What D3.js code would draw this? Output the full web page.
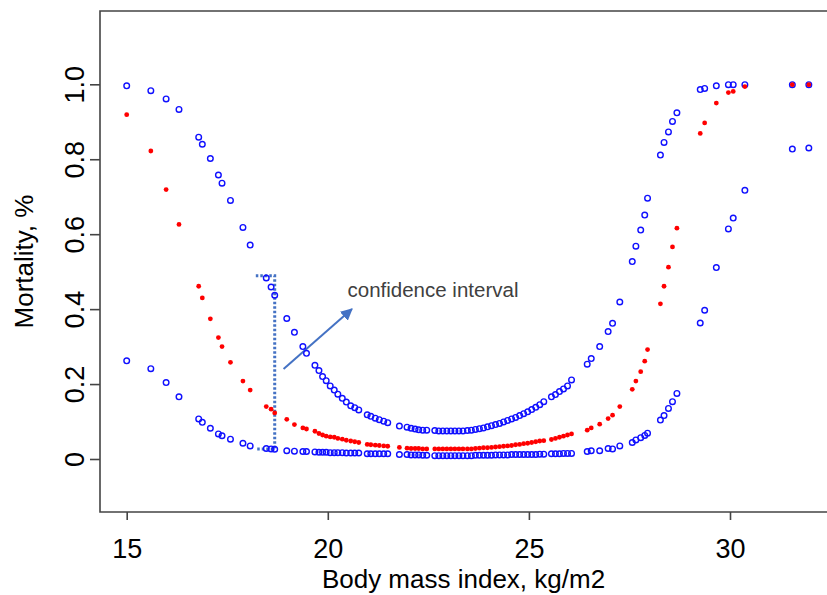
<!DOCTYPE html>
<html>
<head>
<meta charset="utf-8">
<script src="https://cdn.jsdelivr.net/npm/d3@7"></script>
<style>
  html, body { margin: 0; padding: 0; background: #fff; }
  svg { display: block; font-family: "Liberation Sans", Arial, sans-serif; }
</style>
</head>
<body>
<div id="figure"></div>
<script>
// body mass index of each point (shared by the three series)
const bmi = [15.0, 15.6, 15.98, 16.3, 16.79, 16.88, 17.08, 17.28, 17.37, 17.58, 17.89, 18.07, 18.47, 18.59, 18.68,
  18.98, 19.17, 19.38, 19.47, 19.68, 19.78, 19.87, 19.96, 20.06, 20.16, 20.25, 20.36, 20.46, 20.57, 20.67, 20.77,
  20.98, 21.07, 21.18, 21.28, 21.39, 21.49, 21.78, 21.97, 22.07, 22.17, 22.26, 22.36, 22.46,
  22.66, 22.76, 22.86, 22.96, 23.06, 23.16, 23.26, 23.36, 23.47,
  23.57, 23.67, 23.77, 23.87, 23.97, 24.07, 24.17, 24.27, 24.37, 24.47, 24.57, 24.67, 24.77, 24.87, 24.97, 25.07, 25.17, 25.27, 25.37,
  25.56, 25.66, 25.76, 25.86, 25.96, 26.06,
  26.45, 26.55, 26.76, 26.97, 27.08, 27.26, 27.57, 27.66, 27.78, 27.88, 27.95,
  28.27, 28.36, 28.47, 28.57, 28.68,
  29.26, 29.37, 29.66, 29.96, 30.08, 30.37, 31.55, 31.96];

// upper confidence limit
const upper = [0.996, 0.983, 0.961, 0.933, 0.859, 0.840, 0.802, 0.758, 0.736, 0.690, 0.618, 0.571, 0.483, 0.459, 0.437,
  0.375, 0.338, 0.300, 0.282, 0.250, 0.236, 0.220, 0.209, 0.195, 0.184, 0.173, 0.162, 0.152, 0.142, 0.137, 0.131,
  0.118, 0.114, 0.109, 0.105, 0.101, 0.097, 0.088, 0.085, 0.082, 0.080, 0.078, 0.077, 0.077,
  0.076, 0.075, 0.075, 0.075, 0.075, 0.075, 0.075, 0.075, 0.076,
  0.077, 0.079, 0.081, 0.083, 0.086, 0.089, 0.092, 0.095, 0.099, 0.103, 0.107, 0.111, 0.116, 0.121, 0.126, 0.132, 0.138, 0.145, 0.153,
  0.166, 0.172, 0.180, 0.187, 0.195, 0.211,
  0.253, 0.268, 0.300, 0.340, 0.362, 0.419, 0.527, 0.568, 0.611, 0.651, 0.696,
  0.811, 0.845, 0.873, 0.901, 0.924,
  0.986, 0.989, 0.996, 0.999, 0.999, 0.999, 0.999, 0.999];

// estimated mortality
const estimate = [0.919, 0.822, 0.719, 0.626, 0.461, 0.430, 0.374, 0.324, 0.300, 0.258, 0.208, 0.184, 0.140, 0.133, 0.123,
  0.106, 0.092, 0.083, 0.080, 0.074, 0.068, 0.064, 0.061, 0.059, 0.058, 0.055, 0.053, 0.050, 0.048, 0.046, 0.044,
  0.039, 0.038, 0.037, 0.036, 0.035, 0.034, 0.031, 0.029, 0.028, 0.028, 0.028, 0.027, 0.027,
  0.027, 0.027, 0.027, 0.027, 0.027, 0.027, 0.027, 0.027, 0.027,
  0.027, 0.028, 0.029, 0.030, 0.030, 0.031, 0.032, 0.033, 0.034, 0.035, 0.036, 0.038, 0.039, 0.041, 0.042, 0.044, 0.046, 0.048, 0.049,
  0.052, 0.055, 0.058, 0.061, 0.064, 0.067,
  0.077, 0.083, 0.093, 0.108, 0.117, 0.140, 0.186, 0.208, 0.233, 0.261, 0.292,
  0.414, 0.461, 0.512, 0.566, 0.616,
  0.869, 0.897, 0.950, 0.978, 0.981, 0.994, 0.999, 0.999];

// lower confidence limit
const lower = [0.262, 0.241, 0.204, 0.166, 0.107, 0.098, 0.082, 0.067, 0.062, 0.053, 0.042, 0.035, 0.028, 0.027, 0.026,
  0.022, 0.021, 0.020, 0.020, 0.019, 0.018, 0.018, 0.018, 0.017, 0.017, 0.017, 0.017, 0.016, 0.016, 0.016, 0.016,
  0.014, 0.014, 0.014, 0.014, 0.014, 0.014, 0.012, 0.012, 0.011, 0.011, 0.011, 0.010, 0.010,
  0.009, 0.009, 0.009, 0.009, 0.009, 0.009, 0.009, 0.009, 0.009,
  0.009, 0.010, 0.010, 0.010, 0.010, 0.010, 0.011, 0.011, 0.011, 0.011, 0.012, 0.012, 0.012, 0.012, 0.012, 0.012, 0.012, 0.013, 0.013,
  0.014, 0.014, 0.014, 0.015, 0.015, 0.015,
  0.020, 0.022, 0.022, 0.028, 0.027, 0.035, 0.044, 0.051, 0.057, 0.063, 0.069,
  0.104, 0.116, 0.135, 0.153, 0.175,
  0.363, 0.397, 0.511, 0.614, 0.643, 0.717, 0.827, 0.830];

const xTicks = [15, 20, 25, 30];
const yTicks = [0, 0.2, 0.4, 0.6, 0.8, 1.0];
const yTickLabels = ["0", "0.2", "0.4", "0.6", "0.8", "1.0"];

// annotation, in data units
const bracket = [[18.21, 0.489], [18.68, 0.489], [18.68, 0.027], [18.21, 0.027]];
const arrow = [[18.9, 0.24], [20.6, 0.40]];
const note = {x: 20.49, y: 0.432, text: "confidence interval"};

const width = 827, height = 595;
const frame = {left: 100, top: 11, bottom: 512, right: 830};

const svg = d3.select("#figure")
  .append("svg")
  .attr("width", width)
  .attr("height", height);

const x = d3.scaleLinear().domain([15, 30]).range([126.7, 730]);
const y = d3.scaleLinear().domain([0, 1]).range([459, 84.3]);

// box (the right side runs off the picture)
svg.append("path")
  .attr("d", `M${frame.right},${frame.top}H${frame.left}V${frame.bottom}H${frame.right}`)
  .attr("fill", "none")
  .attr("stroke", "#444")
  .attr("stroke-width", 1.6);

// x axis
const xAxis = svg.append("g")
  .attr("transform", `translate(0,${frame.bottom})`)
  .call(d3.axisBottom(x).tickValues(xTicks).tickSize(8).tickPadding(20).tickFormat(d3.format("d")));
xAxis.select(".domain").remove();
xAxis.selectAll("line").attr("stroke", "#444").attr("stroke-width", 1.6);
xAxis.selectAll("text")
  .attr("font-size", 27)
  .attr("font-family", "Liberation Sans, Arial, sans-serif")
  .attr("fill", "#000")
  .attr("dy", 0)
  .attr("y", 46);

// y axis, labels turned on their side
const yAxis = svg.append("g")
  .attr("transform", `translate(${frame.left},0)`)
  .call(d3.axisLeft(y).tickValues(yTicks).tickSize(10).tickFormat((d, i) => yTickLabels[i]));
yAxis.select(".domain").remove();
yAxis.selectAll("line").attr("stroke", "#444").attr("stroke-width", 1.6);
yAxis.selectAll("text")
  .attr("font-size", 27)
  .attr("font-family", "Liberation Sans, Arial, sans-serif")
  .attr("fill", "#000")
  .attr("x", null).attr("dy", null)
  .attr("text-anchor", "middle")
  .attr("transform", "translate(-16,0) rotate(-90)");

// axis titles
svg.append("text")
  .attr("x", (frame.left + width) / 2)
  .attr("y", 588)
  .attr("text-anchor", "middle")
  .attr("font-size", 26)
  .text("Body mass index, kg/m2");

svg.append("text")
  .attr("transform", `translate(33,${(frame.top + frame.bottom) / 2}) rotate(-90)`)
  .attr("text-anchor", "middle")
  .attr("font-size", 26)
  .text("Mortality, %");

// dotted bracket round the first part of the interval
svg.append("path")
  .attr("d", d3.line().x(d => x(d[0])).y(d => y(d[1]))(bracket))
  .attr("fill", "none")
  .attr("stroke", "#4472C4")
  .attr("stroke-width", 3)
  .attr("stroke-dasharray", "2.5,2");

// arrow
svg.append("defs").append("marker")
  .attr("id", "head")
  .attr("viewBox", "0 0 10 10")
  .attr("refX", 9).attr("refY", 5)
  .attr("markerWidth", 6).attr("markerHeight", 6)
  .attr("orient", "auto")
  .append("path")
  .attr("d", "M0,0L10,5L0,10z")
  .attr("fill", "#4472C4");

svg.append("line")
  .attr("x1", x(arrow[0][0])).attr("y1", y(arrow[0][1]))
  .attr("x2", x(arrow[1][0])).attr("y2", y(arrow[1][1]))
  .attr("stroke", "#4472C4")
  .attr("stroke-width", 2)
  .attr("marker-end", "url(#head)");

svg.append("text")
  .attr("x", x(note.x))
  .attr("y", y(note.y))
  .attr("font-size", 20.5)
  .attr("fill", "#404040")
  .text(note.text);

// confidence limits as open circles
const limits = bmi.map((b, i) => ({b: b, v: upper[i]}))
  .concat(bmi.map((b, i) => ({b: b, v: lower[i]})));
svg.append("g")
  .selectAll("circle")
  .data(limits)
  .join("circle")
  .attr("cx", d => x(d.b))
  .attr("cy", d => y(d.v))
  .attr("r", 2.8)
  .attr("fill", "none")
  .attr("stroke", "#1010ff")
  .attr("stroke-width", 1.4);

// estimate as small red dots
svg.append("g")
  .selectAll("circle")
  .data(bmi.map((b, i) => ({b: b, v: estimate[i]})))
  .join("circle")
  .attr("cx", d => x(d.b))
  .attr("cy", d => y(d.v))
  .attr("r", 2.4)
  .attr("fill", "#ff0000");
</script>
</body>
</html>
